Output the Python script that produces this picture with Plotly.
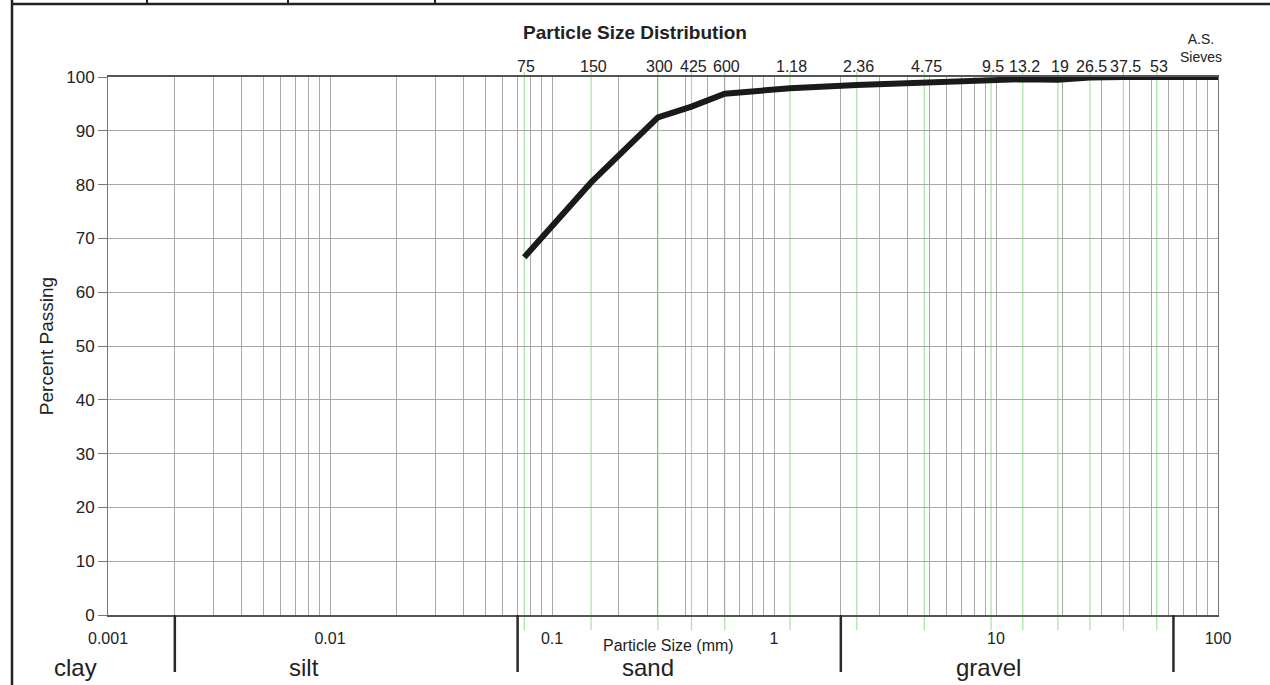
import numpy as np
import plotly.graph_objects as go

# ---- data ----
sieve_sizes_mm = [0.075, 0.15, 0.3, 0.425, 0.6, 1.18, 2.36, 4.75, 9.5, 13.2, 19, 26.5, 37.5, 53]
sieve_labels = ["75", "150", "300", "425", "600", "1.18", "2.36", "4.75", "9.5", "13.2", "19", "26.5", "37.5", "53"]
curve_size_mm = [0.075, 0.15, 0.3, 0.425, 0.6, 1.18, 2.36, 4.75, 9.5, 13.2, 19, 26.5, 37.5, 53, 100]
percent_passing = [66.5, 80.4, 92.5, 94.5, 96.9, 97.9, 98.5, 99.0, 99.5, 99.6, 99.5, 99.9, 100, 100, 100]
soil_boundaries_mm = [0.002, 0.07, 2, 63]
soil_names = ["clay", "silt", "sand", "gravel"]
soil_label_px = [75, 304, 648, 988]
x_major_labels = ["0.001", "0.01", "0.1", "1", "10", "100"]
y_ticks = list(range(0, 101, 10))

FONT = "Liberation Sans, Arial, sans-serif"
TXT = "#222222"

# gridline positions: every 1..9 in each decade
grid_vals = []
grid_text = []
for d in range(-3, 2):
    for m in range(1, 10):
        v = m * 10.0 ** d
        grid_vals.append(v)
        grid_text.append(x_major_labels[d + 3] if m == 1 else "")
grid_vals.append(100.0)
grid_text.append(x_major_labels[-1])

L, T, R, B = 108, 77, 1218, 615
W, H = R - L, B - T


def px(xp):
    return (xp - L) / W


def py(yp):
    return (B - yp) / H


fig = go.Figure()
fig.add_trace(go.Scatter(
    x=curve_size_mm, y=percent_passing, mode="lines",
    line=dict(color="#1a1a1a", width=6), showlegend=False, hoverinfo="x+y"))

shapes = []
for s in sieve_sizes_mm:
    shapes.append(dict(type="line", xref="x", yref="paper", x0=s, x1=s, y0=py(630), y1=py(72),
                       line=dict(color="#a6e3a0", width=1.2), layer="below"))
for b in soil_boundaries_mm:
    shapes.append(dict(type="line", xref="x", yref="paper", x0=b, x1=b, y0=0, y1=py(672),
                       line=dict(color="#2a2a2a", width=2.5)))
# page frame
shapes.append(dict(type="line", xref="paper", yref="paper", x0=px(12), x1=px(12),
                   y0=py(0), y1=py(690), line=dict(color="#222", width=2.5)))
shapes.append(dict(type="line", xref="paper", yref="paper", x0=px(12), x1=px(1272),
                   y0=py(4), y1=py(4), line=dict(color="#222", width=2.5)))
for xp in [147, 288, 435]:
    shapes.append(dict(type="line", xref="paper", yref="paper", x0=px(xp), x1=px(xp),
                       y0=py(0), y1=py(4), line=dict(color="#222", width=2)))

annotations = []
for s, lab in zip(sieve_sizes_mm, sieve_labels):
    annotations.append(dict(x=np.log10(s), xref="x", xanchor="center", y=1.0, yref="paper",
                            yanchor="bottom", text=lab, showarrow=False, yshift=0, xshift=2,
                            font=dict(family=FONT, size=16, color=TXT)))
for name, xp in zip(soil_names, soil_label_px):
    annotations.append(dict(x=px(xp), xref="paper", xanchor="center", y=py(667), yref="paper",
                            yanchor="middle", text=name, showarrow=False,
                            font=dict(family=FONT, size=24, color=TXT)))
annotations.append(dict(x=px(668), xref="paper", xanchor="center", y=py(645), yref="paper",
                        yanchor="middle", text="Particle Size (mm)", showarrow=False,
                        font=dict(family=FONT, size=16, color=TXT)))
annotations.append(dict(x=px(1201), xref="paper", xanchor="center", y=py(48), yref="paper",
                        yanchor="middle", text="A.S.<br>Sieves", showarrow=False,
                        font=dict(family=FONT, size=14, color=TXT)))

fig.update_layout(
    width=1270, height=685,
    margin=dict(l=L, r=1270 - R, t=T, b=685 - B),
    paper_bgcolor="white", plot_bgcolor="white",
    title=dict(text="<b>Particle Size Distribution</b>", x=0.5, xanchor="center",
               y=1 - 32 / 685, yanchor="middle", font=dict(family=FONT, size=19, color=TXT)),
    shapes=shapes, annotations=annotations,
    font=dict(family=FONT, color=TXT),
)
fig.update_xaxes(
    type="log", range=[-3, 2], tickmode="array", tickvals=grid_vals, ticktext=grid_text,
    showgrid=True, gridcolor="#a8a8a8", gridwidth=1, ticks="", ticklabelstandoff=8,
    tickfont=dict(family=FONT, size=16, color=TXT),
    showline=True, linecolor="#555", linewidth=1.5, mirror=True, zeroline=False,
)
fig.update_yaxes(
    range=[0, 100], tickvals=y_ticks, showgrid=True, gridcolor="#a8a8a8", gridwidth=1,
    ticks="outside", ticklen=9, tickcolor="#777", tickfont=dict(family=FONT, size=17, color=TXT),
    title=dict(text="Percent Passing", font=dict(family=FONT, size=19, color=TXT), standoff=7),
    showline=True, linecolor="#777", linewidth=1, mirror=True, zeroline=False,
)

fig.write_html("out.html", config={"displayModeBar": False},
               post_script="document.body.style.margin='0';document.body.style.overflow='hidden';")
